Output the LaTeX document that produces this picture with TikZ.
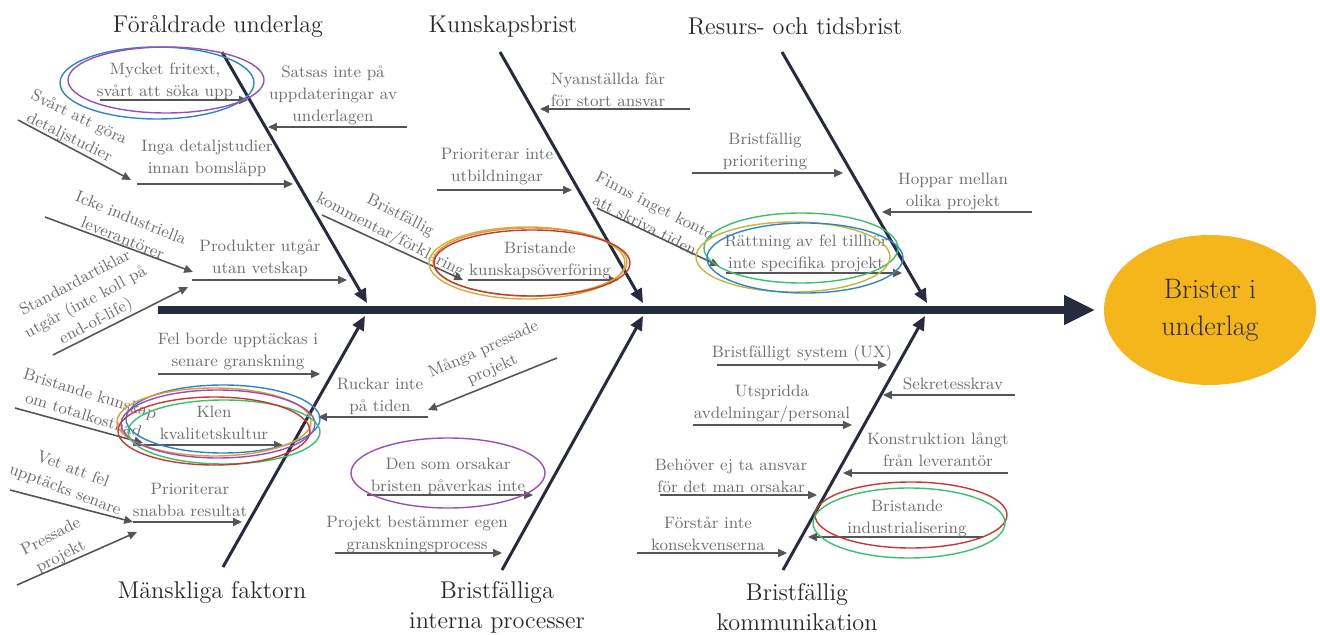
\documentclass[tikz,border=0pt]{standalone}
\usetikzlibrary{arrows.meta,shapes.geometric}
\definecolor{FishInk}{HTML}{262B3D}
\definecolor{FishText}{HTML}{2A2A2A}
\definecolor{FishGray}{HTML}{6E6E6E}
\definecolor{FishArrow}{HTML}{555555}
\definecolor{FishHead}{HTML}{F5B61B}
\definecolor{RingBlue}{HTML}{2F86C6}
\definecolor{RingPurple}{HTML}{9A4FB8}
\definecolor{RingRed}{HTML}{C23A32}
\definecolor{RingGreen}{HTML}{3CBF6B}
\definecolor{RingOrange}{HTML}{E39B36}
\definecolor{RingGold}{HTML}{C8B43C}

\begin{document}
\begin{tikzpicture}[
    x=0.02cm, y=-0.02cm,
    spine/.style={
        -{Triangle[length=17.5pt,width=16pt]},
        line width=4pt,
        draw=FishInk
    },
    bone/.style={
        -{Triangle[length=8pt,width=7pt]},
        line width=1.7pt,
        draw=FishInk
    },
    cause/.style={
        -{Triangle[length=5pt,width=4.5pt]},
        line width=0.9pt,
        draw=FishArrow
    },
    category/.style={
        align=center,
        inner sep=0pt,
        text=FishText,
        font=\fontsize{13.8}{17}\selectfont
    },
    reason/.style={
        align=center,
        inner sep=0pt,
        text=FishGray,
        font=\fontsize{9.4}{12.5}\selectfont
    },
    ring/.style={
        draw=#1,
        line width=0.8pt
    },
    effectbox/.style={
        ellipse,
        fill=FishHead,
        minimum width=4.24cm,
        minimum height=3cm,
        align=center,
        text=FishText,
        font=\fontsize{16}{21}\selectfont
    }
]
    \useasboundingbox (0,0) rectangle (1320,635);

    \node[effectbox] (effect) at (1210,310) {Brister i\\underlag};
    \coordinate (tail) at (158,310);
    \draw[spine, shorten >=5pt] (tail) -- (effect.west);

    \node[category] (cat1) at (218,26) {Föråldrade underlag};
    \node[category] (cat2) at (503,26) {Kunskapsbrist};
    \node[category] (cat3) at (795,26) {Resurs- och tidsbrist};
    \node[category] (cat4) at (212,592) {Mänskliga faktorn};
    \node[category] (cat5) at (497,607) {Bristfälliga\\interna processer};
    \node[category] (cat6) at (797,607) {Bristfällig\\kommunikation};

    \coordinate (b1s) at (222,52);  \coordinate (b1e) at (367,303);
    \coordinate (b2s) at (500,52);  \coordinate (b2e) at (643,303);
    \coordinate (b3s) at (782,52);  \coordinate (b3e) at (927,303);
    \coordinate (b4s) at (223,567); \coordinate (b4e) at (365,316);
    \coordinate (b5s) at (502,570); \coordinate (b5e) at (643,316);
    \coordinate (b6s) at (783,570); \coordinate (b6e) at (925,316);
    \draw[bone] (b1s) -- (b1e);
    \draw[bone] (b2s) -- (b2e);
    \draw[bone] (b3s) -- (b3e);
    \draw[bone] (b4s) -- (b4e);
    \draw[bone] (b5s) -- (b5e);
    \draw[bone] (b6s) -- (b6e);

    % Föråldrade underlag
    \node[reason] (fritext) at (165,81) {Mycket fritext,\\svårt att söka upp};
    \node[reason] (satsas) at (333,95) {Satsas inte på\\uppdateringar av\\underlagen};
    \node[reason] (inga) at (207,158) {Inga detaljstudier\\innan bomsläpp};
    \node[reason, rotate=-26] (svart) at (74,128) {Svårt att göra\\detaljstudier};
    \node[reason] (produkter) at (260,258) {Produkter utgår\\utan vetskap};
    \node[reason, rotate=-22] (icke) at (127,228) {Icke industriella\\leverantörer};
    \node[reason, rotate=28] (standard) at (86,303) {Standardartiklar\\utgår (inte koll på\\end-of-life)};
    \node[reason, rotate=-27] (kommentar) at (395,226) {Bristfällig\\kommentar/förklaring};
    \coordinate (fritextA) at (100,100);   \coordinate (fritextB) at (248,100);
    \coordinate (satsasA) at (407,127);    \coordinate (satsasB) at (268,127);
    \coordinate (ingaA) at (137,184);      \coordinate (ingaB) at (293,184);
    \coordinate (svartA) at (18,120);      \coordinate (svartB) at (131,180);
    \coordinate (produkterA) at (192,280); \coordinate (produkterB) at (347,280);
    \coordinate (ickeA) at (45,217);       \coordinate (ickeB) at (193,272);
    \coordinate (standardA) at (53,355);   \coordinate (standardB) at (188,287);
    \coordinate (kommentarA) at (322,215); \coordinate (kommentarB) at (463,280);
    \draw[cause] (fritextA) -- (fritextB);
    \draw[cause] (satsasA) -- (satsasB);
    \draw[cause] (ingaA) -- (ingaB);
    \draw[cause] (svartA) -- (svartB);
    \draw[cause] (produkterA) -- (produkterB);
    \draw[cause] (ickeA) -- (ickeB);
    \draw[cause] (standardA) -- (standardB);
    \draw[cause] (kommentarA) -- (kommentarB);

    % Kunskapsbrist
    \node[reason] (nyanstallda) at (608,90) {Nyanställda får\\för stort ansvar};
    \node[reason] (utbildning) at (497,167) {Prioriterar inte\\utbildningar};
    \node[reason] (overforing) at (540,260) {Bristande\\kunskapsöverföring};
    \node[reason, rotate=-27] (konto) at (650,215) {Finns inget konto\\att skriva tiden};
    \coordinate (nyanstalldaA) at (690,109); \coordinate (nyanstalldaB) at (540,109);
    \coordinate (utbildningA) at (437,190);  \coordinate (utbildningB) at (572,190);
    \coordinate (overforingA) at (468,280);  \coordinate (overforingB) at (618,280);
    \coordinate (kontoA) at (597,208);       \coordinate (kontoB) at (719,266);
    \draw[cause] (nyanstalldaA) -- (nyanstalldaB);
    \draw[cause] (utbildningA) -- (utbildningB);
    \draw[cause] (overforingA) -- (overforingB);
    \draw[cause] (kontoA) -- (kontoB);

    % Resurs- och tidsbrist
    \node[reason] (prio) at (765,151) {Bristfällig\\prioritering};
    \node[reason] (hoppar) at (953,191) {Hoppar mellan\\olika projekt};
    \node[reason] (rattning) at (806,253) {Rättning av fel tillhör\\inte specifika projekt};
    \coordinate (prioA) at (692,173);     \coordinate (prioB) at (843,173);
    \coordinate (hopparA) at (1032,212);  \coordinate (hopparB) at (882,212);
    \coordinate (rattningA) at (726,273); \coordinate (rattningB) at (902,273);
    \draw[cause] (prioA) -- (prioB);
    \draw[cause] (hopparA) -- (hopparB);
    \draw[cause] (rattningA) -- (rattningB);

    % Mänskliga faktorn
    \node[reason] (felborde) at (238,351) {Fel borde upptäckas i\\senare granskning};
    \node[reason] (ruckar) at (380,396) {Ruckar inte\\på tiden};
    \node[reason, rotate=24] (manga) at (488,360) {Många pressade\\projekt};
    \node[reason] (klen) at (214,423) {Klen\\kvalitetskultur};
    \node[reason, rotate=-17] (totalkostnad) at (87,404) {Bristande kunskap\\om totalkostnad};
    \node[reason] (snabba) at (190,500) {Prioriterar\\snabba resultat};
    \node[reason, rotate=-21] (vetatt) at (69,480) {Vet att fel\\upptäcks senare};
    \node[reason, rotate=27] (pressade) at (56,547) {Pressade\\projekt};
    \coordinate (felbordeA) at (158,374);    \coordinate (felbordeB) at (320,374);
    \coordinate (ruckarA) at (428,417);      \coordinate (ruckarB) at (318,417);
    \coordinate (mangaA) at (557,358);       \coordinate (mangaB) at (428,410);
    \coordinate (klenA) at (133,445);        \coordinate (klenB) at (283,445);
    \coordinate (totalkostnadA) at (15,408); \coordinate (totalkostnadB) at (143,443);
    \coordinate (snabbaA) at (133,522);      \coordinate (snabbaB) at (242,522);
    \coordinate (vetattA) at (10,490);       \coordinate (vetattB) at (133,522);
    \coordinate (pressadeA) at (17,585);     \coordinate (pressadeB) at (137,532);
    \draw[cause] (felbordeA) -- (felbordeB);
    \draw[cause] (ruckarA) -- (ruckarB);
    \draw[cause] (mangaA) -- (mangaB);
    \draw[cause] (klenA) -- (klenB);
    \draw[cause] (totalkostnadA) -- (totalkostnadB);
    \draw[cause] (snabbaA) -- (snabbaB);
    \draw[cause] (vetattA) -- (vetattB);
    \draw[cause] (pressadeA) -- (pressadeB);

    % Bristfälliga interna processer
    \node[reason] (densom) at (448,476) {Den som orsakar\\bristen påverkas inte};
    \node[reason] (egen) at (417,534) {Projekt bestämmer egen\\granskningsprocess};
    \coordinate (densomA) at (367,495); \coordinate (densomB) at (533,495);
    \coordinate (egenA) at (335,553);   \coordinate (egenB) at (502,553);
    \draw[cause] (densomA) -- (densomB);
    \draw[cause] (egenA) -- (egenB);

    % Bristfällig kommunikation
    \node[reason] (system) at (802,353) {Bristfälligt system (UX)};
    \node[reason] (sekretess) at (953,384) {Sekretesskrav};
    \node[reason] (utspridda) at (772,404) {Utspridda\\avdelningar/personal};
    \node[reason] (konstruktion) at (938,450) {Konstruktion långt\\från leverantör};
    \node[reason] (behover) at (731,476) {Behöver ej ta ansvar\\för det man orsakar};
    \node[reason] (industri) at (907,518) {Bristande\\industrialisering};
    \node[reason] (forstar) at (708,534) {Förstår inte\\konsekvenserna};
    \coordinate (systemA) at (717,365);        \coordinate (systemB) at (887,365);
    \coordinate (sekretessA) at (1015,395);    \coordinate (sekretessB) at (883,395);
    \coordinate (utspriddaA) at (693,425);     \coordinate (utspriddaB) at (852,425);
    \coordinate (konstruktionA) at (1008,473); \coordinate (konstruktionB) at (843,473);
    \coordinate (behoverA) at (660,495);       \coordinate (behoverB) at (817,495);
    \coordinate (industriA) at (983,537);      \coordinate (industriB) at (808,537);
    \coordinate (forstarA) at (637,553);       \coordinate (forstarB) at (787,553);
    \draw[cause] (systemA) -- (systemB);
    \draw[cause] (sekretessA) -- (sekretessB);
    \draw[cause] (utspriddaA) -- (utspriddaB);
    \draw[cause] (konstruktionA) -- (konstruktionB);
    \draw[cause] (behoverA) -- (behoverB);
    \draw[cause] (industriA) -- (industriB);
    \draw[cause] (forstarA) -- (forstarB);

    % rings
    \draw[ring=RingBlue] (157,83) ellipse [x radius=97, y radius=36];
    \draw[ring=RingPurple] (166,80) ellipse [x radius=98, y radius=33];
    \draw[ring=RingGold] (527,263) ellipse [x radius=98, y radius=36];
    \draw[ring=RingOrange] (530,262) ellipse [x radius=97, y radius=34];
    \draw[ring=RingRed] (532,263) ellipse [x radius=98, y radius=33];
    \draw[ring=RingGreen] (801,248) ellipse [x radius=97, y radius=35];
    \draw[ring=RingGold] (793,257) ellipse [x radius=97, y radius=35];
    \draw[ring=RingBlue] (805,258) ellipse [x radius=98, y radius=35];
    \draw[ring=RingBlue] (223,419) ellipse [x radius=97, y radius=34];
    \draw[ring=RingOrange] (214,422) ellipse [x radius=97, y radius=34];
    \draw[ring=RingPurple] (218,424) ellipse [x radius=97, y radius=34];
    \draw[ring=RingGreen] (224,432) ellipse [x radius=96, y radius=32];
    \draw[ring=RingRed] (214,431) ellipse [x radius=96, y radius=34];
    \draw[ring=RingPurple] (448,473) ellipse [x radius=97, y radius=35];
    \draw[ring=RingRed] (911,515) ellipse [x radius=96, y radius=33];
    \draw[ring=RingGreen] (909,523) ellipse [x radius=96, y radius=35];
\end{tikzpicture}
\end{document}
